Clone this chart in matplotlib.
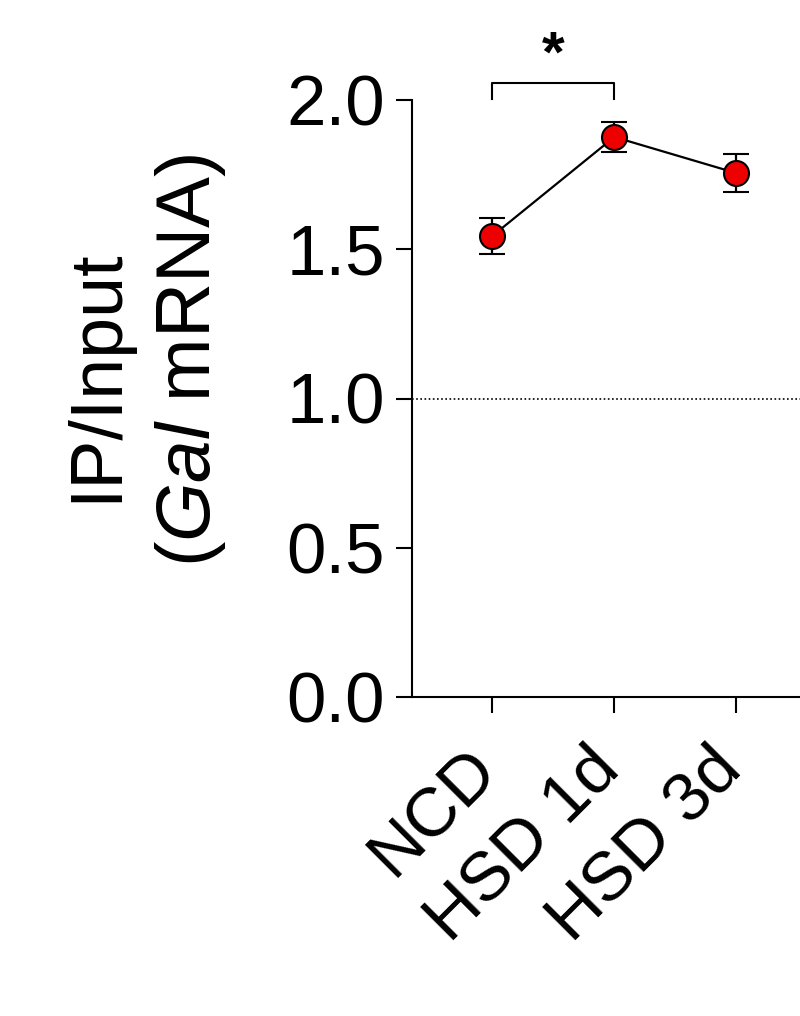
import numpy as np
import matplotlib
matplotlib.use("Agg")
import matplotlib.pyplot as plt
from matplotlib.transforms import ScaledTranslation

plt.rcParams["font.family"] = ["Liberation Sans", "DejaVu Sans"]
plt.rcParams["mathtext.fontset"] = "custom"
plt.rcParams["mathtext.rm"] = "Liberation Sans"
plt.rcParams["mathtext.it"] = "Liberation Sans:italic"

groups = ["NCD", "HSD 1d", "HSD 3d"]
means = [1.544, 1.876, 1.755]
sems = [0.06, 0.05, 0.063]
yticks = [0.0, 0.5, 1.0, 1.5, 2.0]
sig_pair = (0, 1)
sig_label = "*"

fig = plt.figure(figsize=(8, 10.16), dpi=100)
ax = fig.add_axes([412 / 800, 319 / 1016, 388 / 800, 597 / 1016])

x = np.arange(len(groups))
ax.axhline(1.0, color="black", lw=1.2, ls=(0, (1, 1.5)), zorder=1)
ax.errorbar(x, means, yerr=sems, color="black", lw=1.6, elinewidth=1.6,
            capsize=9.5, capthick=1.8, marker="o", ms=18, mfc="#ee0000",
            mec="black", mew=1.5, zorder=3)

ax.set_xlim(-0.656, 2.52)
ax.set_ylim(0, 2.0)
ax.set_yticks(yticks)
ax.set_yticklabels([f"{v:.1f}" for v in yticks], fontsize=51)
ax.set_xticks(x)
ax.set_xticklabels(groups, fontsize=50, rotation=45, ha="right",
                   va="top", rotation_mode="anchor")
ax.tick_params(axis="both", length=11.5, width=1.5)
ax.tick_params(axis="y", pad=8)
ax.tick_params(axis="x", pad=17)
offset = ScaledTranslation(-28 / 100, 0, fig.dpi_scale_trans)
for lbl in ax.get_xticklabels():
    lbl.set_transform(lbl.get_transform() + offset)
for s in ["top", "right"]:
    ax.spines[s].set_visible(False)
for s in ["left", "bottom"]:
    ax.spines[s].set_linewidth(1.5)

# significance bracket
x0, x1 = sig_pair
ytop, ybot = 2.057, 2.003
ax.plot([x0, x0, x1, x1], [ybot, ytop, ytop, ybot], color="black", lw=1.5,
        clip_on=False)
ax.text((x0 + x1) / 2, 2.055, sig_label, ha="center", va="bottom",
        fontsize=42, fontweight="bold", clip_on=False)

fig.text(116 / 800, 1 - 375 / 1016, "IP/Input", rotation=90, ha="center",
         va="baseline", rotation_mode="anchor", fontsize=53)
fig.text(210 / 800, 1 - 360 / 1016, r"($\it{Gal}$ mRNA)", rotation=90,
         ha="center", va="baseline", rotation_mode="anchor", fontsize=55)

fig.savefig("out.png", dpi=100)
